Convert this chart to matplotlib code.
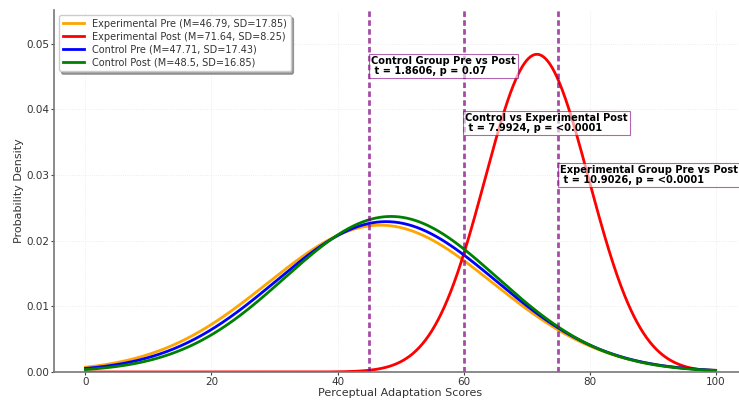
import numpy as np
import matplotlib.pyplot as plt

# group statistics
labels = ['Experimental Pre', 'Experimental Post', 'Control Pre', 'Control Post']
means = [46.79, 71.64, 47.71, 48.5]
sds = [17.85, 8.25, 17.43, 16.85]
mean_txt = ['46.79', '71.64', '47.71', '48.5']
colors = ['orange', 'red', 'blue', 'green']

# t-test annotations
test_x = [45, 60, 75]
test_y = [0.0450, 0.0364, 0.0284]
test_text = ['Control Group Pre vs Post\n t = 1.8606, p = 0.07',
             'Control vs Experimental Post\n t = 7.9924, p = <0.0001',
             'Experimental Group Pre vs Post\n t = 10.9026, p = <0.0001']

score_min, score_max = 0, 100


def normal_pdf(x, m, s):
    return np.exp(-0.5 * ((x - m) / s) ** 2) / (s * np.sqrt(2 * np.pi))


x = np.linspace(score_min, score_max, 1000)

fig = plt.figure(figsize=(7.39, 4.0), dpi=100)
ax = fig.add_axes([0.073, 0.07, 0.938, 0.905])

for lab, m, mt, s, c in zip(labels, means, mean_txt, sds, colors):
    ax.plot(x, normal_pdf(x, m, s), color=c, lw=2,
            label=f'{lab} (M={mt}, SD={s})')

for tx, ty, tt in zip(test_x, test_y, test_text):
    ax.axvline(tx, color='purple', ls='--', lw=2, alpha=0.7, dashes=(2, 1.2))
    ax.text(tx + 0.3, ty, tt, fontsize=7.1, fontweight='bold', va='bottom', ha='left',
            linespacing=1.0,
            bbox=dict(facecolor='white', edgecolor='purple', alpha=0.6, pad=1.4, lw=0.8))

ax.set_xlim(-5, 105)
ax.set_ylim(0, 0.0551)
ax.set_xticks([0, 20, 40, 60, 80, 100])
ax.set_yticks([0, 0.01, 0.02, 0.03, 0.04, 0.05])
ax.set_yticklabels(['0.00', '0.01', '0.02', '0.03', '0.04', '0.05'])
ax.grid(True, color='#e8e8e8', lw=0.6, ls=':')
ax.set_axisbelow(True)

for side in ['top', 'right']:
    ax.spines[side].set_visible(False)
for side in ['left', 'bottom']:
    ax.spines[side].set_color('#777777')
    ax.spines[side].set_linewidth(1.2)
ax.tick_params(labelsize=7.5, colors='#444444', length=2, width=0.8, pad=1.5)
for t in ax.get_xticklabels() + ax.get_yticklabels():
    t.set_color('#333333')

ax.set_xlabel('Perceptual Adaptation Scores', fontsize=8, color='#333333', labelpad=1)
ax.set_ylabel('Probability Density', fontsize=8, color='#333333', labelpad=1.5)

leg = ax.legend(loc='upper left', fontsize=7.0, shadow=True, frameon=True,
                borderpad=0.4, labelspacing=0.3, handlelength=2.2)
for t in leg.get_texts():
    t.set_color('#333333')

fig.savefig('out.png', dpi=100)
